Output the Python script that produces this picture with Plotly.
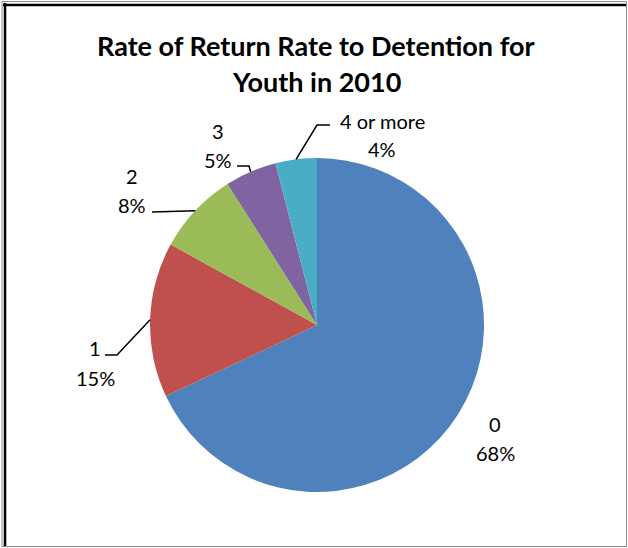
import math
import plotly.graph_objects as go

# ---- data ----
categories = ["0", "1", "2", "3", "4 or more"]
values = [68, 15, 8, 5, 4]
pct_labels = ["68%", "15%", "8%", "5%", "4%"]
title_lines = ["Rate of Return Rate to Detention for", "Youth in 2010"]

# ---- layout / style ----
W, H = 628, 548
colors = ["#4F81BD", "#C0504D", "#9BBB59", "#8064A2", "#4BACC6"]
CX, CY, R = 317, 325, 167          # pie centre / radius in pixels
# label block positions (px): (x center, y of category line, y of percent line)
label_pos = [(495, 424, 453), (95, 348, 378), (132, 176, 205), (218, 131, 160), (382, 121, 149)]
# leader line bends (px) after leaving the slice edge; None = no leader
leader_pts = [None, [(117, 355), (105, 355)], [(152, 212)], [(249, 166), (237, 166)], [(317, 125), (330, 125)]]
FONT = "Lato"


def px(x):
    return x / W


def py(y):
    return 1 - y / H


fig = go.Figure(go.Pie(
    labels=categories,
    values=values,
    sort=False,
    direction="clockwise",
    rotation=0,
    marker=dict(colors=colors, line=dict(color="white", width=0)),
    textinfo="none",
    hoverinfo="label+percent",
    showlegend=False,
    domain=dict(x=[px(CX - R), px(CX + R)], y=[py(CY + R), py(CY - R)]),
))

annotations = []
shapes = []
total = sum(values)
cum = 0
for i, (cat, v) in enumerate(zip(categories, values)):
    mid = (cum + v / 2) / total * 2 * math.pi
    cum += v
    ex = CX + R * math.sin(mid)
    ey = CY - R * math.cos(mid)
    lx, ly1, ly2 = label_pos[i]
    annotations.append(dict(x=px(lx), y=py(ly1), xref="paper", yref="paper", text=cat,
                            showarrow=False, font=dict(family=FONT, size=20, color="#000"),
                            xanchor="center", yanchor="middle"))
    annotations.append(dict(x=px(lx), y=py(ly2), xref="paper", yref="paper", text=pct_labels[i],
                            showarrow=False, font=dict(family=FONT, size=20, color="#000"),
                            xanchor="center", yanchor="middle"))
    if leader_pts[i]:
        pts = [(ex, ey)] + leader_pts[i]
        path = "M " + " L ".join(f"{px(a)},{py(b)}" for a, b in pts)
        shapes.append(dict(type="path", xref="paper", yref="paper", path=path,
                           line=dict(color="black", width=1.5)))

# title
for j, (t, yy) in enumerate(zip(title_lines, [46, 81])):
    annotations.append(dict(x=px(316), y=py(yy), xref="paper", yref="paper", text=f"<b>{t}</b>",
                            showarrow=False, font=dict(family=FONT, size=27, color="#000"),
                            xanchor="center", yanchor="middle"))

# frame
shapes.append(dict(type="rect", xref="paper", yref="paper", x0=px(2), x1=px(626.5), y0=py(546.5), y1=py(1.5),
                   line=dict(color="#8c8c8c", width=1)))
shapes.append(dict(type="line", xref="paper", yref="paper", x0=px(3), x1=px(626), y0=py(5), y1=py(5),
                   line=dict(color="black", width=2.5)))
shapes.append(dict(type="line", xref="paper", yref="paper", x0=px(5), x1=px(5), y0=py(3), y1=py(546),
                   line=dict(color="black", width=2.5)))

fig.update_layout(
    width=W, height=H,
    margin=dict(l=0, r=0, t=0, b=0),
    paper_bgcolor="white", plot_bgcolor="white",
    annotations=annotations, shapes=shapes,
)
fig.write_html("out.html", config={"displayModeBar": False},
               post_script="document.body.style.margin='0';document.body.style.overflow='hidden';")
